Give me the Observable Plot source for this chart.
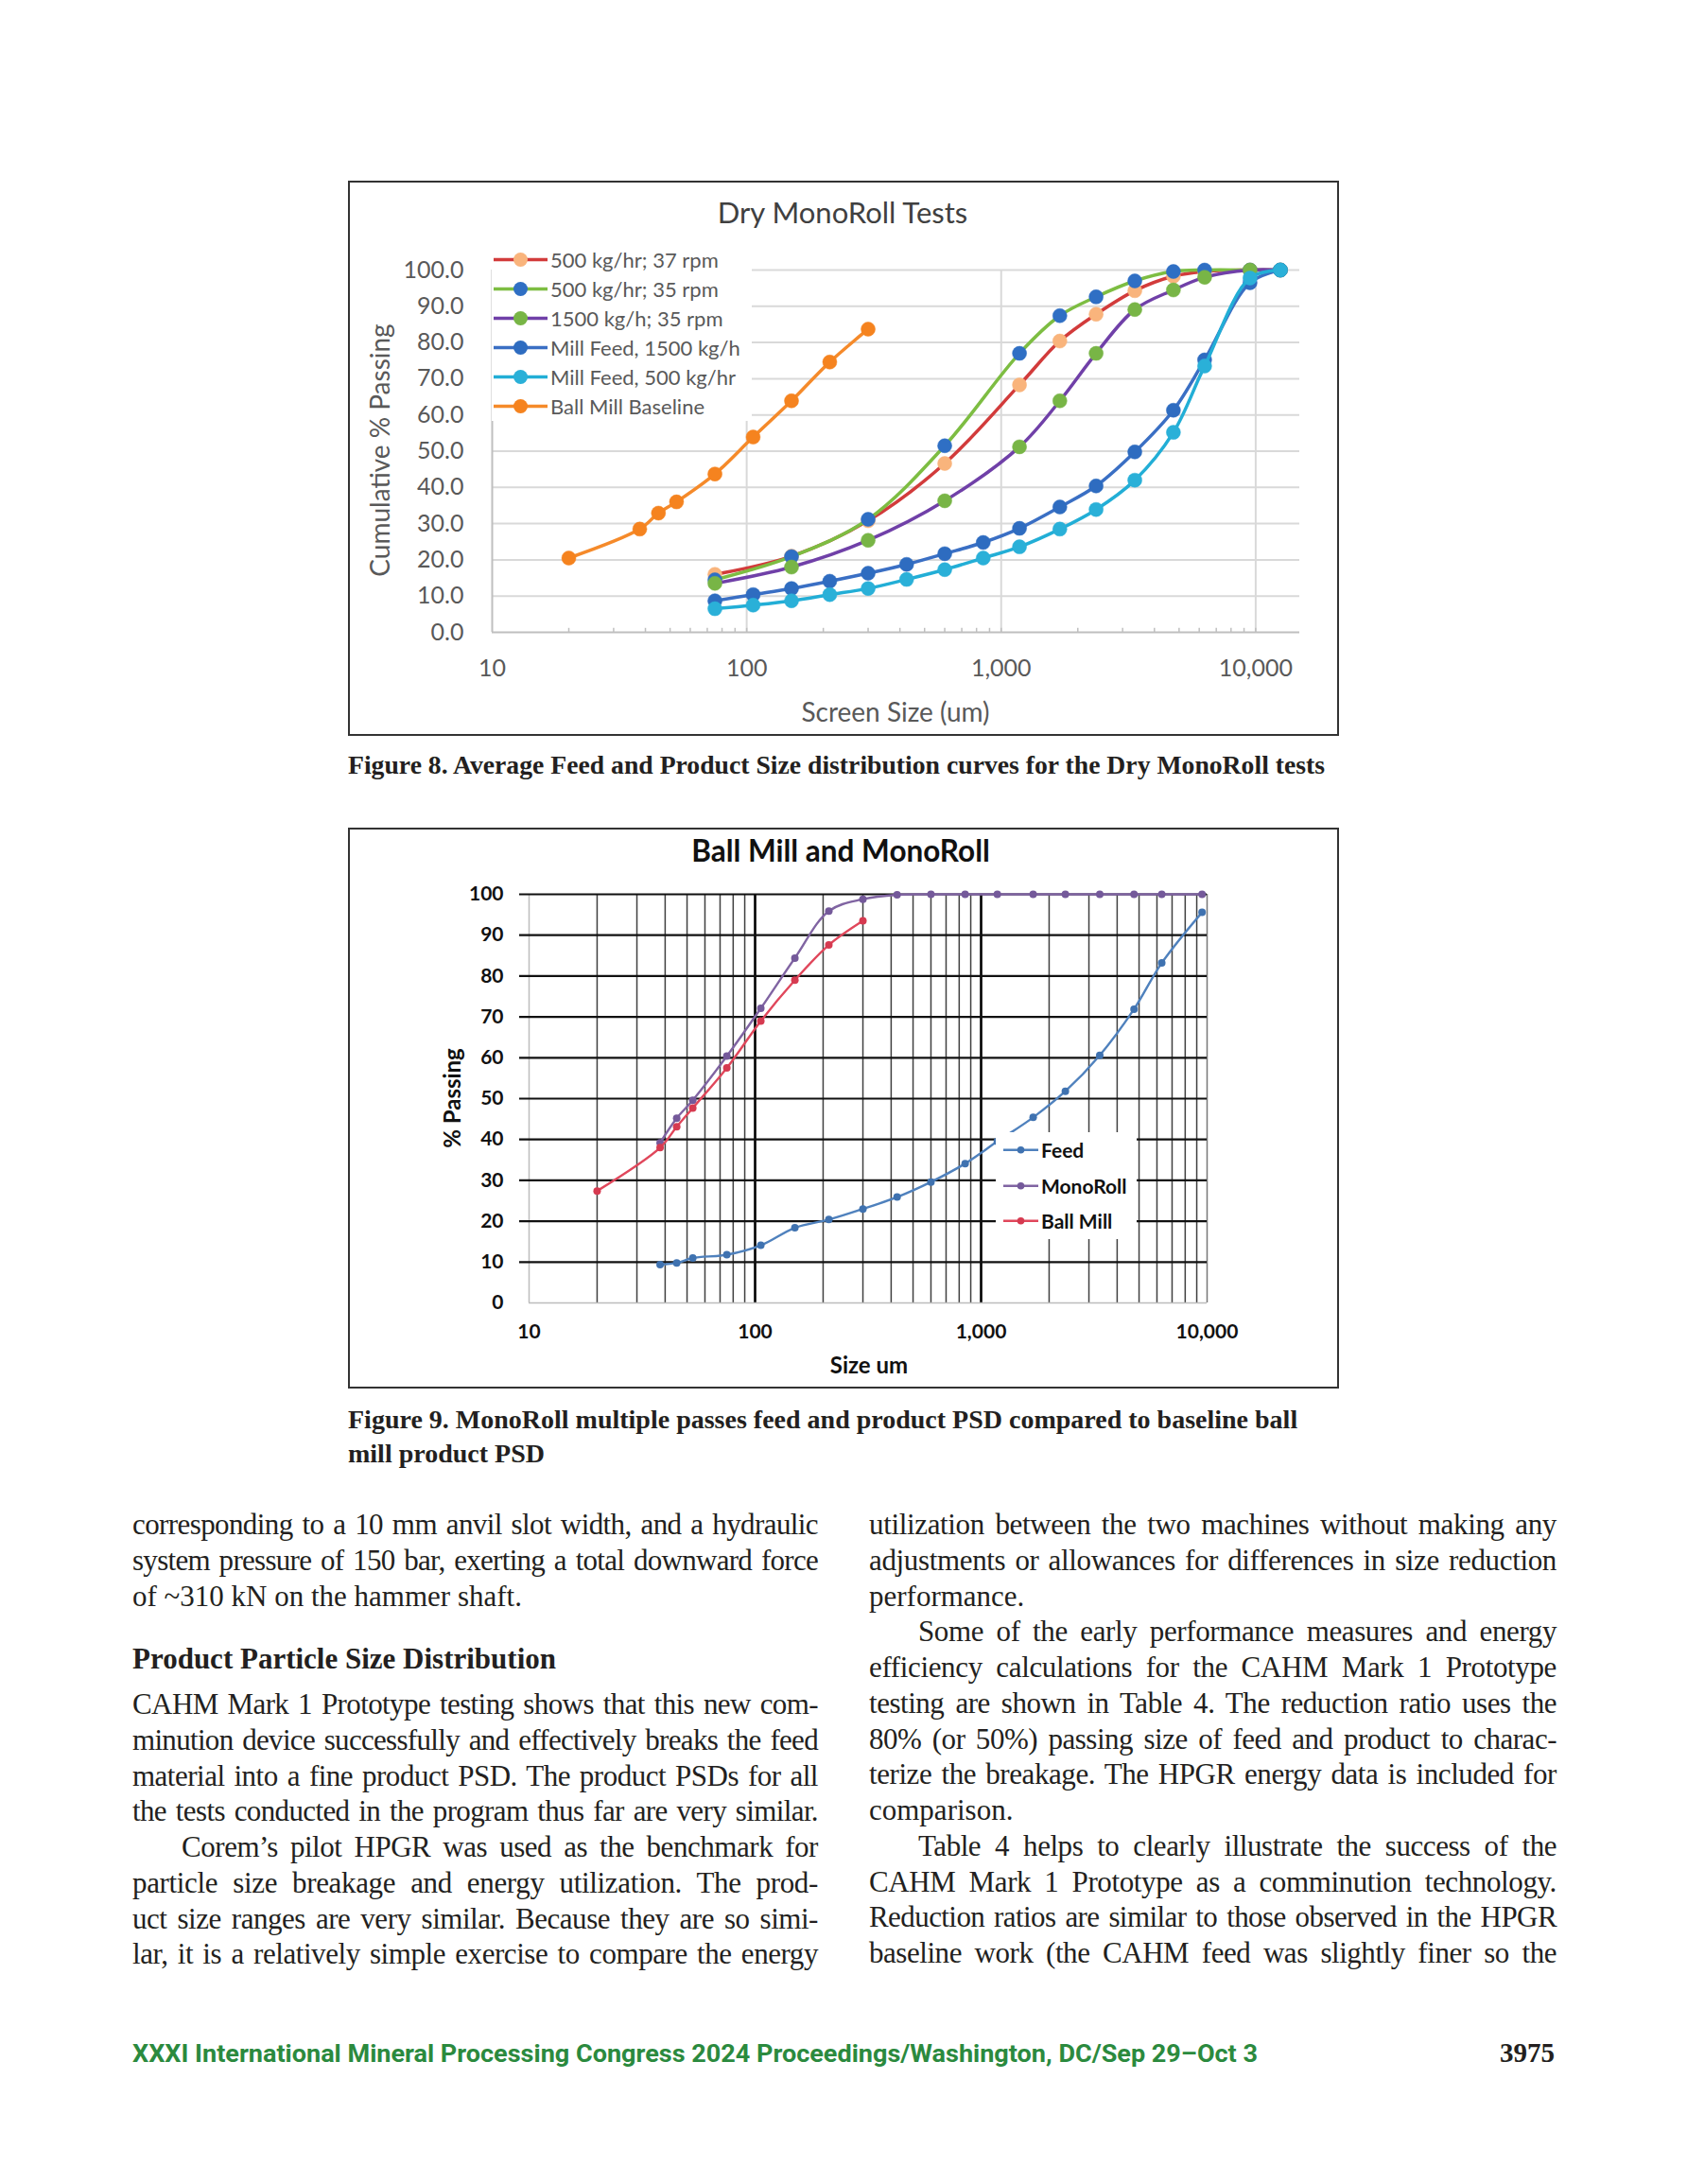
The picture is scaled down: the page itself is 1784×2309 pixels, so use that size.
<!DOCTYPE html>
<html><head><meta charset="utf-8">
<script src="https://cdn.jsdelivr.net/npm/d3@7"></script>
<script src="https://cdn.jsdelivr.net/npm/@observablehq/plot@0.6"></script>
<style>
html,body{margin:0;padding:0;background:#fff;}
#page{position:relative;width:1784px;height:2309px;overflow:hidden;background:#fff;}
.fig{position:absolute;overflow:hidden;background:#fff;}
.fig svg{position:absolute;left:0;top:0;}
.frame{position:absolute;left:0;top:0;right:0;bottom:0;border:2px solid #333;box-sizing:border-box;pointer-events:none;z-index:5;}
.ctext{position:absolute;transform:translate(-50%,-50%);line-height:1;white-space:nowrap;z-index:4;}
.rtext{position:absolute;transform:translate(-50%,-50%) rotate(-90deg);line-height:1;white-space:nowrap;z-index:4;}
.legend{position:absolute;background:#fff;z-index:3;}
.legrow{display:flex;align-items:center;white-space:nowrap;}
.legrow svg{position:static;flex:none;}
.cap{position:absolute;font-family:"Liberation Serif",serif;font-weight:bold;font-size:28px;line-height:36px;color:#231f20;white-space:nowrap;}
.line{position:absolute;font-family:"Liberation Serif",serif;font-size:31px;line-height:37.7px;height:37.7px;color:#231f20;white-space:nowrap;}
.just{text-align:justify;text-align-last:justify;}
</style>
</head><body>
<div id="page">
  <div id="fig8" class="fig" style="left:368px;top:191px;width:1048px;height:587px"><div class="frame"></div></div>
  <div class="cap" style="left:368px;top:791px;font-size:27.7px">Figure 8. Average Feed and Product Size distribution curves for the Dry MonoRoll tests</div>
  <div id="fig9" class="fig" style="left:368px;top:875px;width:1048px;height:593px"><div class="frame"></div></div>
  <div class="cap" style="left:368px;top:1483px">Figure 9. MonoRoll multiple passes feed and product PSD compared to baseline ball<br>mill product PSD</div>
  <div id="body"></div>
  <svg style="position:absolute;left:0;top:2140px" width="1784" height="60">
    <text x="140" y="40" textLength="1190" lengthAdjust="spacingAndGlyphs" font-family="Roboto" font-weight="700" font-size="26" fill="#2b8a3e">XXXI International Mineral Processing Congress 2024 Proceedings/Washington, DC/Sep 29–Oct 3</text>
    <text x="1644" y="40" text-anchor="end" font-family="Liberation Serif" font-weight="700" font-size="29" fill="#231f20">3975</text>
  </svg>
</div>
<script>
// ---------- Figure 8 data: Dry MonoRoll Tests ----------
const sizes8Feed = [75,106,150,212,300,425,600,850,1180,1700,2360,3350,4750,6300,9500,12500];
const sizes8Prod = [75,150,300,600,1180,1700,2360,3350,4750,6300,9500,12500];
const sizes8Ball = [20,38,45,53,75,106,150,212,300];
const prod500rpm37 = [16.0,21.0,30.8,46.6,68.3,80.4,87.8,94.3,98.3,99.6,100,100];
const prod500rpm35 = [14.5,20.9,31.2,51.5,77.0,87.4,92.6,97.0,99.6,100,100,100];
const prod1500rpm35 = [13.5,18.0,25.4,36.3,51.2,63.9,77.0,89.1,94.5,98.0,100,100];
const millFeed1500 = [8.7,10.4,12.1,14.1,16.3,18.75,21.7,24.8,28.7,34.6,40.4,49.8,61.3,75.2,96.5,100];
const millFeed500 = [6.5,7.5,8.7,10.4,12.1,14.6,17.3,20.5,23.6,28.5,33.9,42.0,55.2,73.5,97.8,100];
const ballBaseline = [20.5,28.5,32.9,36.0,43.7,53.9,63.9,74.6,83.7];
const names8 = ["500 kg/hr; 37 rpm","500 kg/hr; 35 rpm","1500 kg/h; 35 rpm","Mill Feed, 1500 kg/h","Mill Feed, 500 kg/hr","Ball Mill Baseline"];
const lineColors8 = ["#d23b3b","#7dbd42","#7040a8","#3a6fc4","#22aed6","#f58a2a"];
const markColors8 = ["#f9b47c","#2f6fc4","#78b546","#2e6cc0","#2ab0d8","#f5831f"];
const yTicks8 = [0,10,20,30,40,50,60,70,80,90,100];
const xTicks8 = [10,100,1000,10000];
const xMinor8 = [20,30,40,50,60,70,80,90,200,300,400,500,600,700,800,900,2000,3000,4000,5000,6000,7000,8000,9000];

// ---------- Figure 9 data: Ball Mill and MonoRoll ----------
const sizes9 = [38,45,53,75,106,150,212,300,425,600,850,1180,1700,2360,3350,4750,6300,9500];
const feed9 = [9.4,9.8,11.0,11.8,14.1,18.4,20.4,23.0,25.9,29.6,34.1,39.5,45.4,51.8,60.6,71.9,83.2,95.6];
const mono9 = [39.2,45.2,49.6,60.4,72.1,84.4,95.9,98.8,99.9,100,100,100,100,100,100,100,100,100];
const sizes9Ball = [20,38,45,53,75,106,150,212,300];
const ball9 = [27.4,38.0,43.1,47.7,57.5,69.0,79.0,87.6,93.5];
const names9 = ["Feed","MonoRoll","Ball Mill"];
const colors9 = ["#4f81bd","#8064a2","#e0475b"];
const markColors9 = ["#3f72b0","#74599a","#d63a50"];
const yTicks9 = [0,10,20,30,40,50,60,70,80,90,100];
const xTicks9 = [10,100,1000,10000];
const xMinor9 = [20,30,40,50,60,70,80,90,200,300,400,500,600,700,800,900,2000,3000,4000,5000,6000,7000,8000,9000];

const toRows = (xs, ys) => xs.map((x, i) => ({x, y: ys[i]}));

function addText(parent, cls, text, left, top, css) {
  const d = document.createElement("div");
  d.className = cls;
  d.textContent = text;
  d.style.left = left + "px";
  d.style.top = top + "px";
  Object.assign(d.style, css || {});
  parent.appendChild(d);
  return d;
}

function legend(parent, names, lineCols, markCols, opts) {
  const L = document.createElement("div");
  L.className = "legend";
  Object.assign(L.style, {left: opts.left + "px", top: opts.top + "px", width: opts.width + "px", height: opts.height + "px"});
  names.forEach((n, i) => {
    const row = document.createElement("div");
    row.className = "legrow";
    row.style.height = opts.rowH + "px";
    row.innerHTML = `<svg width="${opts.sw}" height="${opts.rowH}"><line x1="${opts.pad}" x2="${opts.pad + opts.lw}" y1="${opts.rowH/2}" y2="${opts.rowH/2}" stroke="${lineCols[i]}" stroke-width="${opts.strokeW}"/><circle cx="${opts.pad + opts.lw/2}" cy="${opts.rowH/2}" r="${opts.r}" fill="${markCols[i]}"/></svg><span style="font-family:Lato;font-size:${opts.fs}px;font-weight:${opts.fw};color:${opts.color}">${n}</span>`;
    L.appendChild(row);
  });
  parent.appendChild(L);
}

// ---------- Figure 8 ----------
{
  const series = [prod500rpm37, prod500rpm35, prod1500rpm35, millFeed1500, millFeed500, ballBaseline];
  const xs = [sizes8Prod, sizes8Prod, sizes8Prod, sizes8Feed, sizes8Feed, sizes8Ball];
  const marks = [
    Plot.ruleY(yTicks8.slice(1), {stroke: "#d9d9d9", strokeWidth: 2}),
    Plot.ruleX([100, 1000, 10000], {stroke: "#d9d9d9", strokeWidth: 2}),
    Plot.ruleY([0], {stroke: "#bfbfbf", strokeWidth: 2}),
    Plot.ruleX([10], {stroke: "#bfbfbf", strokeWidth: 2}),
    Plot.ruleX(xMinor8.concat(xTicks8.slice(1)), {y1: 0, y2: 1.1, stroke: "#bfbfbf", strokeWidth: 1.5})
  ];
  series.forEach((s, i) => {
    const rows = toRows(xs[i], s);
    marks.push(Plot.line(rows, {x: "x", y: "y", stroke: lineColors8[i], strokeWidth: 3.5, curve: "catmull-rom"}));
    marks.push(Plot.dot(rows, {x: "x", y: "y", r: 7.5, fill: markColors8[i], stroke: markColors8[i], strokeWidth: 0.5}));
  });
  const p = Plot.plot({
    width: 1048, height: 587,
    marginLeft: 152, marginRight: 42, marginTop: 94, marginBottom: 110,
    style: {fontFamily: "Lato", fontSize: "25px", color: "#595959", background: "transparent", overflow: "visible"},
    x: {type: "log", domain: [10, 14900], ticks: xTicks8, tickFormat: d3.format(","), tickSize: 0, tickPadding: 29, label: null},
    y: {domain: [0, 100], ticks: yTicks8, tickFormat: d3.format(".1f"), tickSize: 0, tickPadding: 30, label: null},
    marks
  });
  const host = document.getElementById("fig8");
  host.appendChild(p);
  addText(host, "ctext", "Dry MonoRoll Tests", 523, 33, {fontFamily: "Lato", fontSize: "31px", color: "#404040"});
  addText(host, "rtext", "Cumulative % Passing", 33, 285, {fontFamily: "Lato", fontSize: "28px", color: "#595959"});
  addText(host, "ctext", "Screen Size (um)", 579, 561, {fontFamily: "Lato", fontSize: "28px", color: "#595959"});
  legend(host, names8, lineColors8, markColors8, {left: 152, top: 68, width: 275, height: 186, rowH: 31, sw: 62, pad: 2, lw: 57, r: 7.5, strokeW: 3.5, fs: 22, fw: 400, color: "#595959"});
}

// ---------- Figure 9 ----------
{
  const series = [feed9, mono9, ball9];
  const xs = [sizes9, sizes9, sizes9Ball];
  const marks = [
    Plot.ruleX(xMinor9, {stroke: "#404040", strokeWidth: 1.5}),
    Plot.ruleX([100, 1000], {stroke: "#000", strokeWidth: 2.6}),
    Plot.ruleX([10000], {stroke: "#777", strokeWidth: 1.5}),
    Plot.ruleX([10], {stroke: "#bdbdbd", strokeWidth: 1.5}),
    Plot.ruleY(yTicks9.slice(1), {stroke: "#111", strokeWidth: 2.2, insetLeft: -10}),
    Plot.ruleY([0], {stroke: "#bdbdbd", strokeWidth: 1.5})
  ];
  series.forEach((s, i) => {
    const rows = toRows(xs[i], s);
    marks.push(Plot.line(rows, {x: "x", y: "y", stroke: colors9[i], strokeWidth: 2.4, curve: "catmull-rom"}));
    marks.push(Plot.dot(rows, {x: "x", y: "y", r: 4, fill: markColors9[i]}));
  });
  const p = Plot.plot({
    width: 1048, height: 593,
    marginLeft: 191, marginRight: 140, marginTop: 70, marginBottom: 91,
    style: {fontFamily: "Lato", fontSize: "21px", fontWeight: "bold", color: "#111", background: "transparent", overflow: "visible"},
    x: {type: "log", domain: [10, 10000], ticks: xTicks9, tickFormat: d3.format(","), tickSize: 0, tickPadding: 23, label: null},
    y: {domain: [0, 100], ticks: yTicks9, tickFormat: d3.format("d"), tickSize: 0, tickPadding: 27, label: null},
    marks
  });
  const host = document.getElementById("fig9");
  host.appendChild(p);
  addText(host, "ctext", "Ball Mill and MonoRoll", 521, 25, {fontFamily: "Lato", fontSize: "31.5px", fontWeight: "bold", color: "#111"});
  addText(host, "rtext", "% Passing", 110, 286, {fontFamily: "Lato", fontSize: "24px", fontWeight: "bold", color: "#111"});
  addText(host, "ctext", "Size um", 551, 568, {fontFamily: "Lato", fontSize: "24px", fontWeight: "bold", color: "#111"});
  legend(host, names9, colors9, markColors9, {left: 685, top: 322, width: 149, height: 113, rowH: 37.5, sw: 48, pad: 8, lw: 37, r: 3.8, strokeW: 2.4, fs: 21, fw: 700, color: "#111"});
}

// ---------- Body text ----------
{
  const body = document.getElementById("body");
  const leftLines = [
    ["corresponding to a 10 mm anvil slot width, and a hydraulic", 1, 0],
    ["system pressure of 150 bar, exerting a total downward force", 1, 0],
    ["of ~310 kN on the hammer shaft.", 0, 0]
  ];
  const leftLines2 = [
    ["CAHM Mark 1 Prototype testing shows that this new com-", 1, 0],
    ["minution device successfully and effectively breaks the feed", 1, 0],
    ["material into a fine product PSD. The product PSDs for all", 1, 0],
    ["the tests conducted in the program thus far are very similar.", 1, 0],
    ["Corem’s pilot HPGR was used as the benchmark for", 1, 1],
    ["particle size breakage and energy utilization. The prod-", 1, 0],
    ["uct size ranges are very similar. Because they are so simi-", 1, 0],
    ["lar, it is a relatively simple exercise to compare the energy", 1, 0]
  ];
  const rightLines = [
    ["utilization between the two machines without making any", 1, 0],
    ["adjustments or allowances for differences in size reduction", 1, 0],
    ["performance.", 0, 0],
    ["Some of the early performance measures and energy", 1, 1],
    ["efficiency calculations for the CAHM Mark 1 Prototype", 1, 0],
    ["testing are shown in Table 4. The reduction ratio uses the", 1, 0],
    ["80% (or 50%) passing size of feed and product to charac-", 1, 0],
    ["terize the breakage. The HPGR energy data is included for", 1, 0],
    ["comparison.", 0, 0],
    ["Table 4 helps to clearly illustrate the success of the", 1, 1],
    ["CAHM Mark 1 Prototype as a comminution technology.", 1, 0],
    ["Reduction ratios are similar to those observed in the HPGR", 1, 0],
    ["baseline work (the CAHM feed was slightly finer so the", 1, 0]
  ];
  const place = (lines, left, width, top0) => {
    lines.forEach(([t, j, ind], i) => {
      const d = document.createElement("div");
      d.className = "line" + (j ? " just" : "");
      const s = document.createElement("span");
      s.textContent = t;
      d.appendChild(s);
      const indent = ind ? 52 : 0;
      const w = width - indent;
      d.style.left = (left + indent) + "px";
      d.style.width = w + "px";
      d.style.top = (top0 + i * 37.75) + "px";
      body.appendChild(d);
      const nat = s.getBoundingClientRect().width;
      const minSpace = 9 * (t.split(" ").length - 1);
      if (nat + minSpace * 0.3 > w) {
        const excess = nat + minSpace * 0.3 - w;
        d.style.letterSpacing = (-excess / t.length) + "px";
      }
    });
  };
  place(leftLines, 140, 725, 1593);
  place(leftLines2, 140, 725, 1783);
  place(rightLines, 919, 727, 1593);
  const h = document.createElement("div");
  h.className = "line";
  h.style.cssText = "left:140px;top:1735px;font-weight:bold;width:725px;";
  h.textContent = "Product Particle Size Distribution";
  body.appendChild(h);
}
</script>
</body></html>
